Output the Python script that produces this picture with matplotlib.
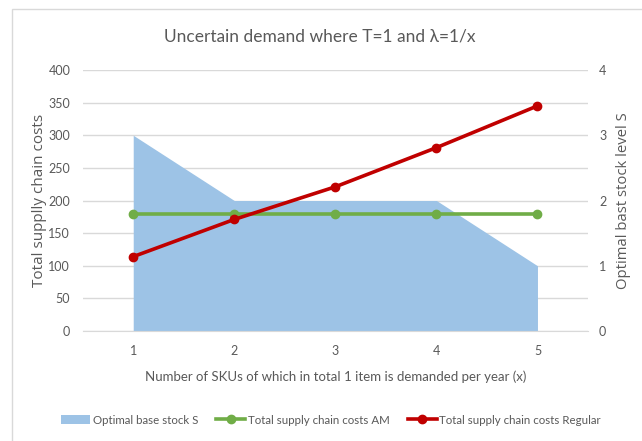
"""Cost comparison of AM vs regular supply chain with optimal base stock level."""
import matplotlib
matplotlib.use('Agg')
from matplotlib import pyplot as plt
from matplotlib.patches import Patch, Rectangle
from matplotlib.lines import Line2D
from matplotlib.ticker import MultipleLocator

# data
n_skus = [1, 2, 3, 4, 5]
base_stock = [3, 2, 2, 2, 1]
costs_am = [180, 180, 180, 180, 180]
costs_regular = [114, 171, 221, 281, 345]

TEXT = '#595959'
GRID = '#d9d9d9'
AREA = '#9dc3e6'
GREEN = '#70ad47'
RED = '#c00000'

plt.rcParams['font.family'] = ['Lato', 'DejaVu Sans']

fig = plt.figure(figsize=(6.42, 4.41), dpi=100)

# light chart frame
fig.patches.append(Rectangle((12 / 642, -0.01), 1.0, (441 - 9) / 441 + 0.01,
                             transform=fig.transFigure, fill=False,
                             edgecolor=GRID, linewidth=1.0))

ax = fig.add_axes([82.7 / 642, 110 / 441, (588 - 82.7) / 642, 261 / 441])
ax2 = ax.twinx()

# area sits on the secondary axis, lines above it
ax.set_zorder(ax2.get_zorder() + 1)
ax.patch.set_visible(False)

ax2.fill_between(n_skus, base_stock, 0, color=AREA, linewidth=0, zorder=2)
ax.plot(n_skus, costs_am, color=GREEN, linewidth=2.6, marker='o',
        markersize=6, solid_capstyle='round')
ax.plot(n_skus, costs_regular, color=RED, linewidth=2.6, marker='o',
        markersize=6, solid_capstyle='round')

ax.set_xlim(0.5, 5.5)
ax.set_ylim(0, 400)
ax2.set_ylim(0, 4)
ax.yaxis.set_major_locator(MultipleLocator(50))
ax2.yaxis.set_major_locator(MultipleLocator(1))
ax2.yaxis.set_minor_locator(MultipleLocator(0.5))
ax.set_xticks(n_skus)

# gridlines drawn on the back axis so the area covers them
ax2.grid(True, which='both', axis='y', color=GRID, linewidth=1.0, zorder=0)
ax2.set_axisbelow(True)

for a in (ax, ax2):
    for s in a.spines.values():
        s.set_visible(False)
    a.tick_params(length=0, colors=TEXT, labelsize=9)
ax2.tick_params(which='minor', length=0)
ax.tick_params(axis='y', pad=9)
ax.tick_params(axis='x', pad=10)
ax2.tick_params(axis='y', pad=8)
ax.spines['bottom'].set_visible(True)
ax.spines['bottom'].set_color(GRID)

fig.suptitle('Uncertain demand where T=1 and λ=1/x', x=320 / 642, y=1 - 37 / 441,
             va='center', fontsize=12.5, color=TEXT)
ax.set_xlabel('Number of SKUs of which in total 1 item is demanded per year (x)',
              fontsize=9.5, color=TEXT, labelpad=10)
ax.set_ylabel('Total supplly chain costs', fontsize=11, color=TEXT,
              family=['Open Sans', 'DejaVu Sans'], labelpad=1)
ax2.set_ylabel('Optimal bast stock level S', fontsize=10.7, color=TEXT,
               family=['Open Sans', 'DejaVu Sans'], labelpad=7)

handles = [
    Patch(facecolor=AREA, edgecolor='none'),
    Line2D([], [], color=GREEN, linewidth=2.6, marker='o', markersize=6, markevery=[1]),
    Line2D([], [], color=RED, linewidth=2.6, marker='o', markersize=6, markevery=[1]),
]
labels = ['Optimal base stock S', 'Total supply chain costs AM',
          'Total supply chain costs Regular']
fig.legend(handles, labels, loc='center', bbox_to_anchor=(331 / 642, 1 - 420 / 441),
           ncol=3, frameon=False, fontsize=8.3, labelcolor=TEXT,
           handlelength=2.5, handletextpad=0.2, columnspacing=1.6)

fig.savefig('out.png', dpi=100)
